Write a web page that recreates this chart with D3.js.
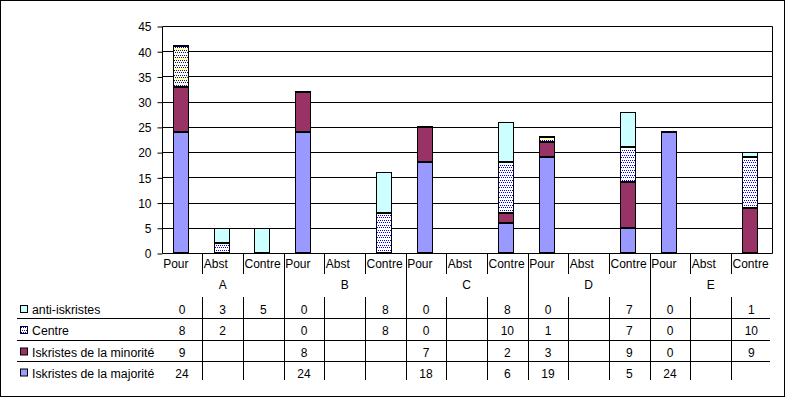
<!DOCTYPE html>
<html><head><meta charset="utf-8">
<script src="https://cdn.jsdelivr.net/npm/d3@7"></script>
<style>
html,body{margin:0;padding:0;background:#fff;}
svg{display:block;font-family:Arial,"Liberation Sans",sans-serif;}
</style></head>
<body>
<svg id="chart" width="787" height="398"></svg>
<script>
const categories = ["Pour","Abst","Contre","Pour","Abst","Contre","Pour","Abst","Contre","Pour","Abst","Contre","Pour","Abst","Contre"];
const groups = ["A","B","C","D","E"];
const antiIskristes = [0,3,5, 0,null,8, 0,null,8, 0,null,7, 0,null,1];
const centre        = [8,2,null, 0,null,8, 0,null,10, 1,null,7, 0,null,10];
const minorite      = [9,null,null, 8,null,null, 7,null,2, 3,null,9, 0,null,9];
const majorite      = [24,null,null, 24,null,null, 18,null,6, 19,null,5, 24,null,null];
const yTicks = [0,5,10,15,20,25,30,35,40,45];

const seriesTable = [
  {name:"anti-iskristes", values:antiIskristes, key:"anti"},
  {name:"Centre", values:centre, key:"centre"},
  {name:"Iskristes de la minorité", values:minorite, key:"min"},
  {name:"Iskristes de la majorité", values:majorite, key:"maj"}
];
const stackKeys = ["maj","min","centre","anti"];
const fills = {maj:"#9999FF", min:"#993366", centre:"url(#dots)", anti:"#CCFFFF"};

const svg = d3.select("#chart");
const defs = svg.append("defs");
function dotPattern(id,bg){
  const p = defs.append("pattern").attr("id",id).attr("width",2).attr("height",5).attr("patternUnits","userSpaceOnUse");
  p.append("rect").attr("width",2).attr("height",5).attr("fill",bg);
  p.append("rect").attr("x",0).attr("y",0).attr("width",1).attr("height",1).attr("fill","#0000FF");
  p.append("rect").attr("x",1).attr("y",2).attr("width",1).attr("height",1).attr("fill","#0000FF");
}
dotPattern("dots","#FFFFFF");
dotPattern("dotsY","#FFFFB8");

// outer border
svg.append("rect").attr("x",0.5).attr("y",0.5).attr("width",784).attr("height",396)
  .attr("fill","#fff").attr("stroke","#000");

const X0 = 161.7, X1 = 771.7;
const x = d3.scaleBand().domain(d3.range(categories.length)).range([X0,X1]).paddingInner(0).paddingOuter(0);
const bw = x.bandwidth();
const y = d3.scaleLinear().domain([0,45]).range([253,26]);
const px = v => Math.round(v)+0.5;
const edge = k => X0 + bw*k;

// gridlines
svg.append("g").selectAll("line").data(yTicks.filter(t=>t>0)).join("line")
  .attr("x1",px(X0)).attr("x2",px(X1)).attr("y1",d=>px(y(d))).attr("y2",d=>px(y(d)))
  .attr("stroke","#000");

// y axis
const yAxis = d3.axisLeft(y).tickValues(yTicks).tickSize(5).tickPadding(6).tickFormat(d3.format("d"));
const gy = svg.append("g").attr("transform",`translate(${px(X0)},0.5)`).call(yAxis);
gy.select(".domain").remove();
gy.selectAll(".tick line").attr("stroke","#000");
gy.selectAll(".tick text").attr("font-size","12px").attr("fill","#000").attr("font-family","Arial,'Liberation Sans',sans-serif").attr("dy","0.36em");
svg.append("line").attr("x1",px(X0)).attr("x2",px(X0)).attr("y1",px(y(45))).attr("y2",px(y(0))).attr("stroke","#000");
svg.append("line").attr("x1",px(X1)).attr("x2",px(X1)).attr("y1",px(y(45))).attr("y2",px(y(0))).attr("stroke","#000");

// stacked bars
const rows = categories.map((c,i)=>({i, maj:majorite[i], min:minorite[i], centre:centre[i], anti:antiIskristes[i]}));
const stack = d3.stack().keys(stackKeys).value((d,k)=>d[k]==null?0:d[k]);
const stacked = stack(rows);
const barW = 16;
const gBars = svg.append("g");
stacked.forEach(s=>{
  const key = s.key;
  s.forEach((d,i)=>{
    const v = rows[i][key];
    if(v==null) return;
    const cx = x(i)+bw/2;
    const xl = Math.round(cx - barW/2) - 1;
    const yt = Math.round(y(d[1])), yb = Math.round(y(d[0]));
    let fill = fills[key];
    if(key==="centre" && categories[i]==="Pour") fill = "url(#dotsY)";
    if(yb-yt>1){
      gBars.append("rect").attr("x",xl+0.5).attr("y",yt+0.5).attr("width",barW-1).attr("height",yb-yt-1)
        .attr("fill",fill).attr("stroke","#000");
    } else {
      gBars.append("line").attr("x1",xl).attr("x2",xl+barW).attr("y1",yt-0.5).attr("y2",yt-0.5)
        .attr("stroke","#000").attr("stroke-width",1);
    }
  });
});
// x axis line
svg.append("line").attr("x1",px(X0)).attr("x2",px(X1)).attr("y1",px(y(0))).attr("y2",px(y(0))).attr("stroke","#000");

// category labels row
const gCat = svg.append("g");
gCat.selectAll("text").data(categories).join("text")
  .attr("x",(d,i)=>edge(i)+1.5).attr("y",268).attr("font-size","12px").attr("fill","#000").text(d=>d);
gCat.selectAll("line").data(d3.range(1,categories.length)).join("line")
  .attr("x1",k=>px(edge(k))).attr("x2",k=>px(edge(k))).attr("y1",253).attr("y2",274).attr("stroke","#000");

// group labels and group separators
svg.append("g").selectAll("text").data(groups).join("text")
  .attr("x",(d,g)=>edge(g*3+1.5)).attr("y",289).attr("text-anchor","middle").attr("font-size","12px").text(d=>d);
svg.append("g").selectAll("line").data([3,6,9,12]).join("line")
  .attr("x1",k=>px(edge(k))).attr("x2",k=>px(edge(k))).attr("y1",253).attr("y2",380).attr("stroke","#000");

// data table
const baselines = [314,335,356.5,377.5];
const gT = svg.append("g");
gT.selectAll("line.h").data([318.5,340.5,361.5]).join("line").attr("class","h")
  .attr("x1",17).attr("x2",770).attr("y1",d=>d).attr("y2",d=>d).attr("stroke","#000");
gT.selectAll("line.v").data(d3.range(1,categories.length)).join("line").attr("class","v")
  .attr("x1",k=>px(edge(k))).attr("x2",k=>px(edge(k))).attr("y1",297).attr("y2",380).attr("stroke","#000");
const keyFill = {anti:"#CCFFFF", centre:"url(#dots)", min:"#993366", maj:"#9999FF"};
seriesTable.forEach((s,r)=>{
  const b = baselines[r];
  gT.append("rect").attr("x",20.5).attr("y",b-8.5).attr("width",7).attr("height",7)
    .attr("fill",keyFill[s.key]).attr("stroke","#000");
  gT.append("text").attr("x",32).attr("y",b).attr("font-size","12.3px").text(s.name);
  gT.append("g").selectAll("text").data(s.values).join("text")
    .attr("x",(d,i)=>x(i)+bw/2).attr("y",b).attr("text-anchor","middle").attr("font-size","12px")
    .text(d=>d==null?"":d);
});
</script>
</body></html>
